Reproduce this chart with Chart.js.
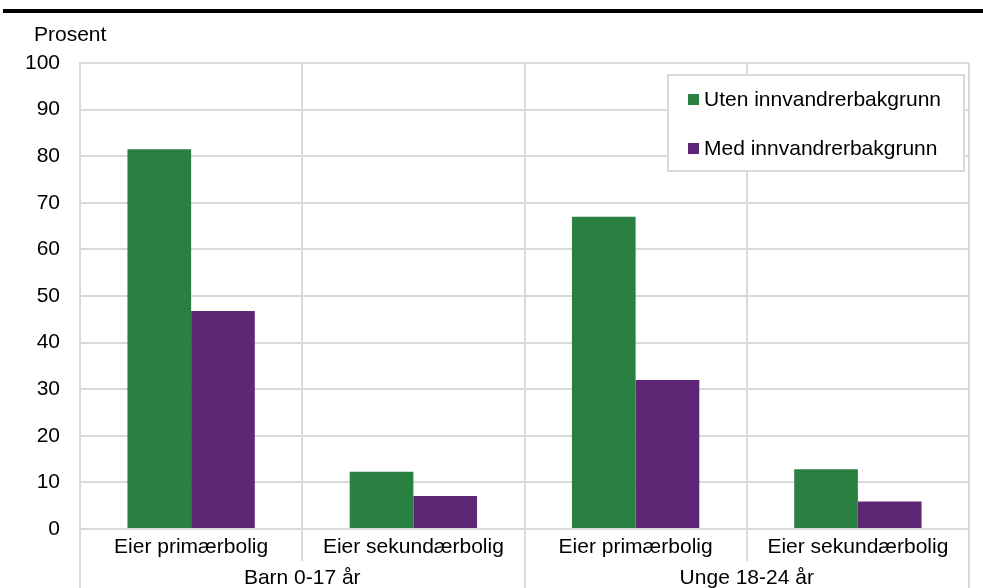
<!DOCTYPE html>
<html>
<head>
<meta charset="utf-8">
<script src="https://cdn.jsdelivr.net/npm/chart.js@4"></script>
<style>
  html, body { margin: 0; padding: 0; background: #fff; }
  #wrap { width: 983px; height: 588px; }
</style>
</head>
<body>
<div id="wrap"><canvas id="myChart" width="983" height="588"></canvas></div>
<script>
// categories and values
const categories = ['Eier primærbolig', 'Eier sekundærbolig', 'Eier primærbolig', 'Eier sekundærbolig'];
const groups = ['Barn 0-17 år', 'Unge 18-24 år'];
const utenValues = [81.5, 12.3, 67.0, 12.8];
const medValues = [46.8, 7.1, 32.0, 5.9];
const seriesNames = ['Uten innvandrerbakgrunn', 'Med innvandrerbakgrunn'];
const yTicks = [0, 10, 20, 30, 40, 50, 60, 70, 80, 90, 100];

const FONT = "'Liberation Sans', Arial, sans-serif";
const FSIZE = 21;
const GRID = '#d9d9d9';

// top rule + "Prosent" label
const decorPlugin = {
  id: 'decor',
  beforeDraw(chart) {
    const ctx = chart.ctx;
    ctx.save();
    ctx.fillStyle = '#000';
    ctx.fillRect(3, 9, 980, 4);
    ctx.font = FSIZE + 'px ' + FONT;
    ctx.textBaseline = 'middle';
    ctx.fillText('Prosent', 34, 35);
    ctx.restore();
  }
};

// legend box sitting inside the plot, top right
const boxLegend = {
  id: 'boxLegend',
  afterDraw(chart) {
    const ctx = chart.ctx;
    const area = chart.chartArea;
    const w = 296, h = 96;
    const left = area.right - 5 - w;
    const top = area.top + 12;
    ctx.save();
    ctx.fillStyle = '#fff';
    ctx.fillRect(left, top, w, h);
    ctx.strokeStyle = GRID;
    ctx.lineWidth = 2;
    ctx.strokeRect(left, top, w, h);
    ctx.font = FSIZE + 'px ' + FONT;
    ctx.textBaseline = 'middle';
    chart.data.datasets.forEach((ds, i) => {
      const cy = top + 24 + i * 49;
      ctx.fillStyle = ds.backgroundColor;
      ctx.fillRect(left + 20, cy - 5, 11, 11);
      ctx.fillStyle = '#000';
      ctx.fillText(ds.label, left + 36, cy + 1);
    });
    ctx.restore();
  }
};

const ctx = document.getElementById('myChart').getContext('2d');
const myChart = new Chart(ctx, {
  type: 'bar',
  data: {
    labels: categories,
    datasets: [
      {
        label: seriesNames[0],
        data: utenValues,
        backgroundColor: '#2a8041',
        borderWidth: 0,
        categoryPercentage: 0.573,
        barPercentage: 1.0,
      },
      {
        label: seriesNames[1],
        data: medValues,
        backgroundColor: '#5f2676',
        borderWidth: 0,
        categoryPercentage: 0.573,
        barPercentage: 1.0,
      },
    ],
  },
  options: {
    responsive: false,
    animation: false,
    layout: { padding: { top: 63, right: 14, left: 0, bottom: 0 } },
    plugins: {
      legend: { display: false },
      tooltip: { enabled: false },
    },
    scales: {
      y: {
        min: 0,
        max: 100,
        afterBuildTicks: (axis) => { axis.ticks = yTicks.map((v) => ({ value: v })); },
        afterFit: (axis) => { axis.width = 80; },
        ticks: { color: '#000', font: { family: FONT, size: FSIZE }, padding: 20 },
        grid: { color: GRID, lineWidth: 2, drawTicks: false },
        border: { color: GRID, width: 2 },
      },
      x: {
        position: 'bottom',
        afterFit: (axis) => { axis.height = 32; },
        ticks: { color: '#000', font: { family: FONT, size: FSIZE }, padding: -26, maxRotation: 0, autoSkip: false },
        grid: { offset: true, color: GRID, lineWidth: 2, tickLength: 32, drawOnChartArea: true },
        border: { color: GRID, width: 2 },
      },
      x2: {
        type: 'category',
        position: 'bottom',
        labels: groups,
        afterFit: (axis) => { axis.height = 27; },
        ticks: { color: '#000', font: { family: FONT, size: FSIZE }, padding: -25, maxRotation: 0, autoSkip: false },
        grid: { offset: true, color: GRID, lineWidth: 2, tickLength: 30, drawOnChartArea: false },
        border: { display: false },
      },
    },
  },
  plugins: [decorPlugin, boxLegend],
});
</script>
</body>
</html>
